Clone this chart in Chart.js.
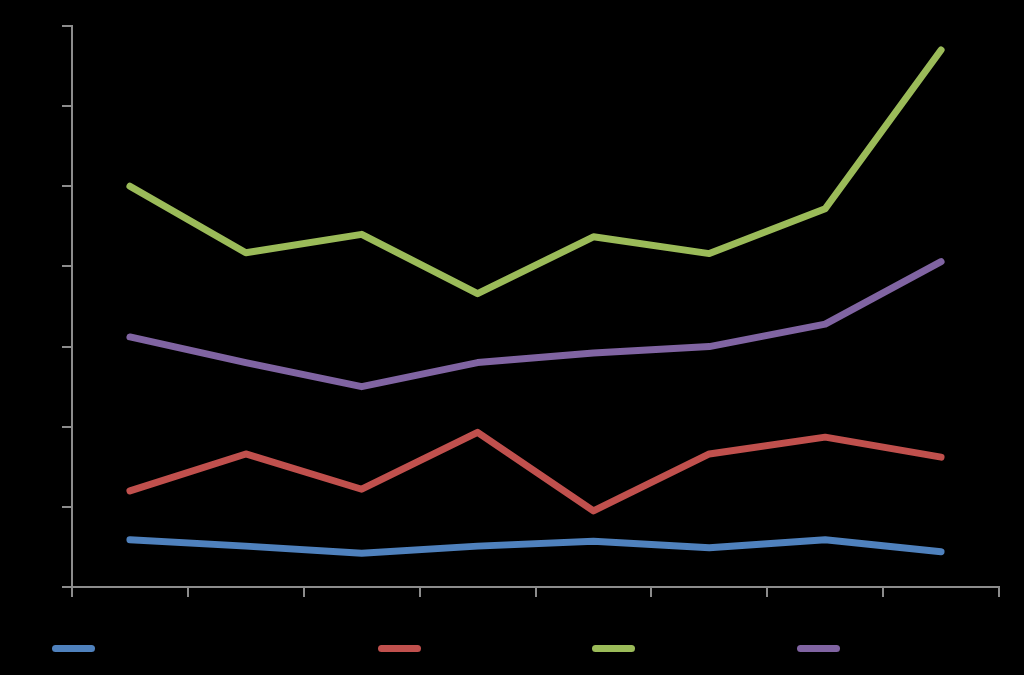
<!DOCTYPE html>
<html>
<head>
<meta charset="utf-8">
<script src="https://cdn.jsdelivr.net/npm/chart.js@4"></script>
<style>
  html, body { margin: 0; padding: 0; background: #000; }
  #wrap { position: relative; width: 1024px; height: 675px; }
  #legend { position: absolute; left: 0; top: 638px; width: 1024px; height: 20px; }
  .item { position: absolute; top: 0; font: 15px "Liberation Sans", Arial, sans-serif; color: #000; white-space: nowrap; }
  .swatch { display: inline-block; width: 43px; height: 7px; border-radius: 4px; vertical-align: middle; margin-right: 6px; }
</style>
</head>
<body>
<div id="wrap">
  <canvas id="chart" width="1024" height="675"></canvas>
  <div id="legend"></div>
</div>
<script>
const categories = ['1', '2', '3', '4', '5', '6', '7', '8'];
const seriesNames = ['Series 1', 'Series 2', 'Series 3', 'Series 4'];
const seriesA = [0.59, 0.51, 0.42, 0.51, 0.57, 0.49, 0.59, 0.44];
const seriesB = [1.20, 1.66, 1.22, 1.93, 0.95, 1.66, 1.87, 1.62];
const seriesC = [5.00, 4.17, 4.40, 3.66, 4.37, 4.16, 4.72, 6.70];
const seriesD = [3.12, 2.80, 2.50, 2.80, 2.92, 3.00, 3.28, 4.06];
const colors = ['#4F81BD', '#C0504D', '#9BBB59', '#8064A2'];

const axisColor = '#8c8c8c';

function makeSet(i, data) {
  return {
    label: seriesNames[i],
    data: data,
    borderColor: colors[i],
    backgroundColor: colors[i],
    borderWidth: 7,
    borderCapStyle: 'round',
    borderJoinStyle: 'round',
    pointRadius: 0,
    tension: 0,
    fill: false
  };
}

const ctx = document.getElementById('chart').getContext('2d');
new Chart(ctx, {
  type: 'line',
  data: {
    labels: categories,
    datasets: [makeSet(0, seriesA), makeSet(1, seriesB), makeSet(2, seriesC), makeSet(3, seriesD)]
  },
  options: {
    responsive: false,
    animation: false,
    layout: { padding: { top: 26, right: 25, left: 0, bottom: 0 } },
    plugins: {
      legend: { display: false },
      tooltip: { enabled: false }
    },
    scales: {
      x: {
        offset: true,
        afterFit: s => { s.height = 88; },
        grid: { offset: true, drawOnChartArea: false, drawTicks: true, tickLength: 10, color: axisColor, lineWidth: 2 },
        border: { color: axisColor, width: 2 },
        ticks: { color: '#000', font: { size: 15 }, padding: 2 }
      },
      y: {
        min: 0,
        max: 7,
        afterFit: s => { s.width = 72; },
        grid: { drawOnChartArea: false, drawTicks: true, tickLength: 10, color: axisColor, lineWidth: 2 },
        border: { color: axisColor, width: 2 },
        ticks: { stepSize: 1, color: '#000', font: { size: 15 } }
      }
    }
  }
});

// legend drawn as html below the plot
const legendLeft = [52, 378, 592, 797];
const legend = document.getElementById('legend');
seriesNames.forEach((name, i) => {
  const item = document.createElement('div');
  item.className = 'item';
  item.style.left = legendLeft[i] + 'px';
  item.innerHTML = '<span class="swatch" style="background:' + colors[i] + '"></span>' + name;
  legend.appendChild(item);
});
</script>
</body>
</html>
